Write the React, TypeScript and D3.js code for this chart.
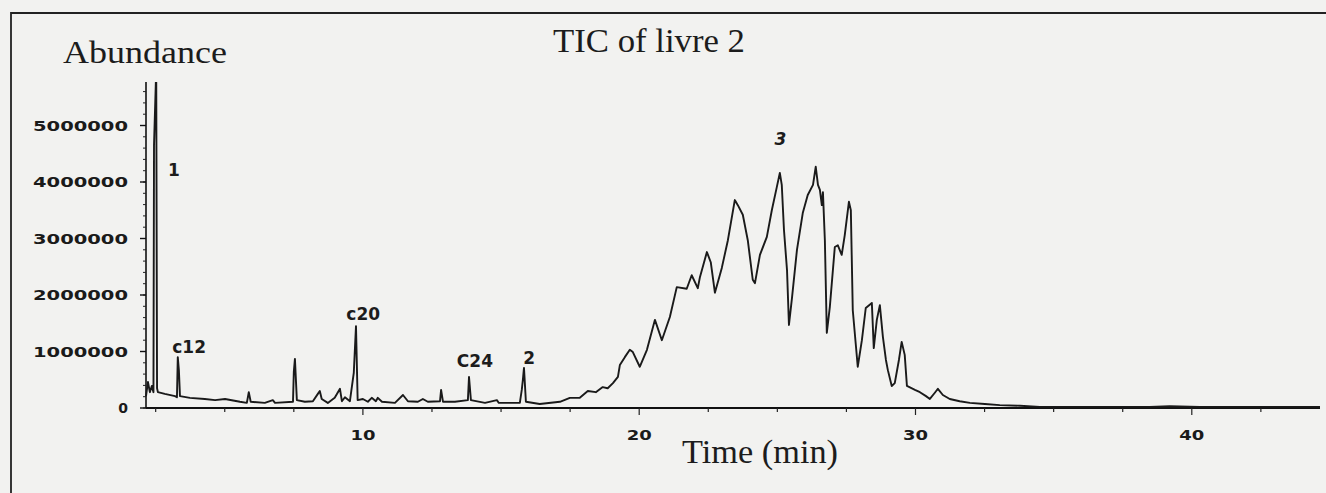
import React from 'react';
import * as d3 from 'd3';

// retention time (min) and abundance (millions of counts)
const timeMin = [
  2.15, 2.22, 2.29, 2.36, 2.42, 2.44, 2.52, 2.55, 2.58, 2.83,
  3.2, 3.27, 3.3, 3.34, 3.38, 3.74, 4.28, 4.65, 5.01, 5.55,
  5.8, 5.87, 5.94, 6.45, 6.74, 6.82, 7.47, 7.5, 7.54, 7.61,
  7.9, 8.19, 8.37, 8.44, 8.51, 8.73, 8.98, 9.17, 9.24, 9.35,
  9.53, 9.67, 9.75, 9.81, 10.0, 10.18, 10.32, 10.47, 10.54, 10.69,
  11.16, 11.45, 11.63, 11.99, 12.17, 12.35, 12.79, 12.83, 12.9, 13.33,
  13.8, 13.84, 13.91, 14.42, 14.85, 14.92, 15.68, 15.75, 15.79, 15.83,
  15.9, 16.4, 17.13, 17.49, 17.85, 18.14, 18.43, 18.68, 18.86, 19.05,
  19.23, 19.3, 19.48, 19.66, 19.77, 20.02, 20.28, 20.57, 20.82, 21.11,
  21.36, 21.72, 21.9, 22.12, 22.2, 22.45, 22.59, 22.74, 22.99, 23.21,
  23.46, 23.57, 23.75, 23.93, 24.11, 24.19, 24.37, 24.62, 24.8, 24.98,
  25.09, 25.16, 25.24, 25.35, 25.42, 25.53, 25.71, 25.92, 26.1, 26.29,
  26.39, 26.47, 26.54, 26.61, 26.65, 26.72, 26.79, 26.9, 27.08, 27.19,
  27.33, 27.44, 27.59, 27.66, 27.73, 27.84, 27.91, 28.06, 28.2, 28.42,
  28.49, 28.6, 28.71, 28.82, 28.93, 29.0, 29.14, 29.25, 29.4, 29.5,
  29.61, 29.69, 29.98, 30.16, 30.38, 30.52, 30.7, 30.81, 30.99, 31.24,
  31.6, 31.97, 32.51, 33.05, 33.78, 34.5, 35.23, 36.67, 38.48, 39.2,
  40.29, 42.1, 44.64,
];

const abundanceM = [
  0.21, 0.46, 0.28, 0.39, 0.28, 4.65, 6.0, 0.35, 0.28, 0.25,
  0.21, 0.19, 0.9, 0.67, 0.21, 0.18, 0.16, 0.14, 0.16, 0.11,
  0.09, 0.28, 0.11, 0.09, 0.14, 0.09, 0.11, 0.64, 0.87, 0.14,
  0.11, 0.12, 0.25, 0.3, 0.16, 0.09, 0.18, 0.34, 0.12, 0.19,
  0.12, 0.62, 1.45, 0.14, 0.16, 0.11, 0.18, 0.12, 0.18, 0.11,
  0.09, 0.23, 0.12, 0.11, 0.16, 0.11, 0.12, 0.32, 0.11, 0.11,
  0.14, 0.55, 0.14, 0.09, 0.14, 0.09, 0.09, 0.32, 0.5, 0.71,
  0.11, 0.07, 0.11, 0.18, 0.18, 0.3, 0.28, 0.37, 0.35, 0.44,
  0.55, 0.76, 0.9, 1.03, 0.99, 0.73, 1.03, 1.56, 1.2, 1.61,
  2.14, 2.11, 2.35, 2.12, 2.32, 2.76, 2.58, 2.04, 2.48, 2.97,
  3.68, 3.59, 3.42, 2.97, 2.27, 2.21, 2.71, 3.03, 3.5, 3.91,
  4.16, 3.95, 3.15, 2.44, 1.47, 1.95, 2.8, 3.45, 3.77, 3.95,
  4.27, 3.95, 3.86, 3.59, 3.82, 2.97, 1.33, 1.79, 2.85, 2.88,
  2.71, 3.06, 3.65, 3.5, 1.73, 1.12, 0.73, 1.2, 1.77, 1.86,
  1.06, 1.56, 1.82, 1.26, 0.85, 0.67, 0.39, 0.44, 0.85, 1.17,
  0.94, 0.39, 0.32, 0.28, 0.21, 0.16, 0.27, 0.34, 0.23, 0.16,
  0.12, 0.09, 0.07, 0.05, 0.04, 0.02, 0.02, 0.02, 0.02, 0.03,
  0.02, 0.02, 0.02,
];

const yTicks = [0, 1, 2, 3, 4, 5];
const yTickLabels = ['0', '1000000', '2000000', '3000000', '4000000', '5000000'];
const xTicks = [10, 20, 30, 40];
const xTickLabels = ['10', '20', '30', '40'];

// handwritten peak marks: [time, abundance(M), text]
const peakNotes: [number, number, string][] = [
  [2.95, 4.1, '1'],
  [3.1, 0.98, 'c12'],
  [9.4, 1.55, 'c20'],
  [13.4, 0.72, 'C24'],
  [15.8, 0.77, '2'],
  [24.9, 4.65, '3'],
];

const W = 1326;
const H = 493;

export default function App() {
  const x = d3.scaleLinear().domain([2.15, 44.64]).range([146, 1320]);
  const y = d3.scaleLinear().domain([0, 5.77]).range([408, 82]);

  const pts = timeMin.map((t, i) => [t, abundanceM[i]] as [number, number]);
  const line = d3.line<[number, number]>().x(d => x(d[0])).y(d => y(d[1]));

  const minorY = d3.range(0, 5.7, 0.2);
  const minorX = d3.range(2.5, 44, 2.5);
  const serif = '"Liberation Serif", "DejaVu Serif", serif';
  const bold = '"DejaVu Sans", sans-serif';

  return (
    <svg width={W} height={H} style={{ position: 'fixed', left: 0, top: 0, background: '#f2f2f0' }}>
      <defs>
        <clipPath id="plot">
          <rect x={x.range()[0] - 2} y={y.range()[1]} width={1180} height={330} />
        </clipPath>
      </defs>
      {/* frame of the scanned page */}
      <path d={`M11,${H} V13 H${W}`} fill="none" stroke="#222" strokeWidth={1.8} />

      <text x={63} y={63} fontFamily={serif} fontSize={32} fill="#1c1c1c" textLength={164} lengthAdjust="spacingAndGlyphs">Abundance</text>
      <text x={553} y={52} fontFamily={serif} fontSize={33} fill="#1c1c1c" textLength={192} lengthAdjust="spacingAndGlyphs">TIC of livre 2</text>
      <text x={682} y={463} fontFamily={serif} fontSize={34} fill="#1c1c1c" textLength={156} lengthAdjust="spacingAndGlyphs">Time (min)</text>

      {/* y axis */}
      <line x1={x.range()[0]} x2={x.range()[0]} y1={y.range()[1]} y2={y(0)} stroke="#111" strokeWidth={1.6} />
      {minorY.map(v => (
        <line key={'my' + v} x1={x.range()[0] - 3} x2={x.range()[0]} y1={y(v)} y2={y(v)} stroke="#222" strokeWidth={1} />
      ))}
      {yTicks.map((v, i) => (
        <g key={'y' + v}>
          <line x1={x.range()[0] - 6} x2={x.range()[0]} y1={y(v)} y2={y(v)} stroke="#111" strokeWidth={1.4} />
          <text x={128} y={y(v) + 5} textAnchor="end" fontFamily={bold} fontWeight="bold" fontSize={14} fill="#1a1a1a"
            {...(yTickLabels[i].length > 1 ? { textLength: 95, lengthAdjust: 'spacingAndGlyphs' } : {})}>
            {yTickLabels[i]}
          </text>
        </g>
      ))}

      {/* x axis */}
      <line x1={x.range()[0]} x2={x.range()[1]} y1={y(0)} y2={y(0)} stroke="#111" strokeWidth={1.8} />
      {minorX.map(t => (
        <line key={'mx' + t} x1={x(t)} x2={x(t)} y1={y(0)} y2={y(0) + (t % 10 === 0 ? 7 : 4)} stroke="#222" strokeWidth={1.2} />
      ))}
      {xTicks.map((t, i) => (
        <text key={'x' + t} x={x(t)} y={440} textAnchor="middle" fontFamily={bold} fontWeight="bold" fontSize={14} fill="#1a1a1a"
          textLength={25} lengthAdjust="spacingAndGlyphs">
          {xTickLabels[i]}
        </text>
      ))}

      {/* chromatogram trace */}
      <path d={line(pts) ?? ''} fill="none" stroke="#1a1a1a" strokeWidth={1.9} strokeLinejoin="round" clipPath="url(#plot)" />

      {peakNotes.map(([t, v, s]) => (
        <text key={s} x={x(t)} y={y(v)} fontFamily={bold} fontWeight="bold" fontSize={17} fill="#1c1c1c"
          fontStyle={s === '3' ? 'italic' : 'normal'}>
          {s}
        </text>
      ))}
    </svg>
  );
}
